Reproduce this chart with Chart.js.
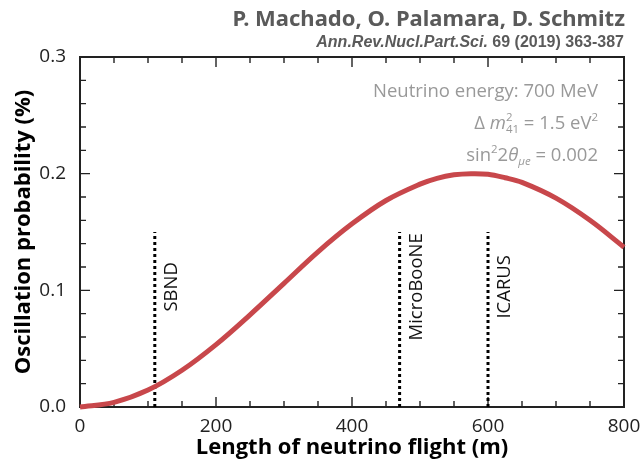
<!DOCTYPE html>
<html>
<head>
<meta charset="utf-8">
<script src="https://cdn.jsdelivr.net/npm/chart.js@4.4.1/dist/chart.umd.min.js"></script>
<style>
  html, body { margin: 0; padding: 0; background: #fff; }
  #wrap { width: 641px; height: 459px; }
</style>
</head>
<body>
<div id="wrap"><canvas id="graficoOsc"></canvas></div>
<script>
// Datos
const longitudes = [0, 50, 100, 150, 200, 250, 300, 350, 400, 450, 500, 525, 550, 575, 600, 625, 650, 700, 750, 800];
const probabilidad = [0, 0.004, 0.0145, 0.0315, 0.0535, 0.079, 0.106, 0.133, 0.157, 0.177, 0.191, 0.196, 0.199, 0.2, 0.1995, 0.1965, 0.1925, 0.179, 0.16, 0.137];
const detectores = ['SBND', 'MicroBooNE', 'ICARUS'];
const posDetector = [110, 470, 600];
const alturaDetector = 0.15;
const xTicks = [0, 200, 400, 600, 800];
const yTicks = [0, 0.1, 0.2, 0.3];

const fuente = '"Open Sans", "DejaVu Sans", sans-serif';

// Datasets: curva + lineas punteadas de cada detector
const datasets = [{
    data: longitudes.map((l, i) => ({ x: l, y: probabilidad[i] })),
    borderColor: '#c8474b',
    borderWidth: 5,
    pointRadius: 0,
    tension: 0.35,
    clip: 6
}];
detectores.forEach((d, i) => {
    datasets.push({
        data: [{ x: posDetector[i], y: 0 }, { x: posDetector[i], y: alturaDetector }],
        borderColor: '#000',
        borderWidth: 3,
        borderDash: [3, 3],
        pointRadius: 0,
        clip: false
    });
});

// Marco con ticks hacia dentro (arriba, abajo, izquierda, derecha)
const marco = {
    id: 'marco',
    beforeDatasetsDraw(chart) {
        const { ctx, chartArea: a, scales: { x, y } } = chart;
        ctx.save();
        ctx.strokeStyle = '#222';
        ctx.lineWidth = 2;
        ctx.strokeRect(a.left, a.top, a.right - a.left, a.bottom - a.top);
        ctx.lineWidth = 1.4;
        ctx.beginPath();
        for (let v = 0; v <= 800; v += 50) {
            const px = x.getPixelForValue(v);
            const len = v % 200 === 0 ? 10 : 6;
            ctx.moveTo(px, a.bottom); ctx.lineTo(px, a.bottom - len);
            ctx.moveTo(px, a.top); ctx.lineTo(px, a.top + len);
        }
        for (let k = 0; k <= 15; k++) {
            const py = y.getPixelForValue(k * 0.02);
            const len = k % 5 === 0 ? 10 : 6;
            ctx.moveTo(a.left, py); ctx.lineTo(a.left + len, py);
            ctx.moveTo(a.right, py); ctx.lineTo(a.right - len, py);
        }
        ctx.stroke();
        ctx.restore();
    }
};

// Dibuja una linea de texto con super/subindices, alineada a la derecha
function textoCompuesto(ctx, partes, derecha, base, tam) {
    const f = (p, s) => (p.it ? 'italic ' : '') + s + 'px ' + fuente;
    let ancho = 0;
    partes.forEach(p => {
        if (p.sup !== undefined || p.sub !== undefined) {
            ctx.font = f(p, tam * 0.62);
            p.w = Math.max(ctx.measureText(p.sup || '').width, ctx.measureText(p.sub || '').width);
        } else {
            ctx.font = f(p, tam);
            p.w = ctx.measureText(p.t).width;
        }
        ancho += p.w;
    });
    let xx = derecha - ancho;
    ctx.textAlign = 'left';
    partes.forEach(p => {
        if (p.sup !== undefined || p.sub !== undefined) {
            ctx.font = f(p, tam * 0.62);
            if (p.sup) ctx.fillText(p.sup, xx, base - tam * 0.42);
            if (p.sub) ctx.fillText(p.sub, xx, base + tam * 0.22);
        } else {
            ctx.font = f(p, tam);
            ctx.fillText(p.t, xx, base);
        }
        xx += p.w;
    });
}

const textos = {
    id: 'textos',
    afterDraw(chart) {
        const { ctx, chartArea: a, scales: { x, y } } = chart;
        ctx.save();
        // Cabecera
        ctx.fillStyle = '#5a5a5a';
        ctx.textAlign = 'right';
        ctx.textBaseline = 'alphabetic';
        ctx.font = 'bold 22px "Noto Sans", sans-serif';
        ctx.fillText('P. Machado, O. Palamara, D. Schmitz', a.right + 1, 26);
        const ref = ' 69 (2019) 363-387';
        ctx.font = 'bold 16px "Liberation Sans", Arial, sans-serif';
        const w2 = ctx.measureText(ref).width;
        ctx.fillText(ref, a.right, 47);
        ctx.font = 'italic bold 16px "Liberation Sans", Arial, sans-serif';
        ctx.fillText('Ann.Rev.Nucl.Part.Sci.', a.right - w2, 47);

        // Parametros
        ctx.fillStyle = '#999';
        const der = a.right - 26;
        textoCompuesto(ctx, [{ t: 'Neutrino energy: 700 MeV' }], der, 97, 18.5);
        textoCompuesto(ctx, [{ t: '\u0394 ' }, { t: 'm', it: true }, { sup: '2', sub: '41' }, { t: ' = 1.5 eV' }, { sup: '2' }], der, 129, 18.5);
        textoCompuesto(ctx, [{ t: 'sin' }, { sup: '2' }, { t: '2' }, { t: '\u03B8', it: true }, { sub: '\u03BCe', it: true }, { t: ' = 0.002' }], der, 161, 18.5);

        // Etiquetas de detectores
        ctx.fillStyle = '#111';
        ctx.font = '18.5px ' + fuente;
        ctx.textAlign = 'center';
        ctx.textBaseline = 'middle';
        detectores.forEach((d, i) => {
            ctx.save();
            ctx.translate(x.getPixelForValue(posDetector[i]) + 17, y.getPixelForValue(0.103));
            ctx.rotate(-Math.PI / 2);
            ctx.fillText(d, 0, 0);
            ctx.restore();
        });
        ctx.restore();
    }
};

const ctx = document.getElementById('graficoOsc').getContext('2d');
new Chart(ctx, {
    type: 'line',
    data: { datasets: datasets },
    options: {
        responsive: true,
        maintainAspectRatio: false,
        animation: false,
        layout: { padding: { top: 57, right: 17, left: 0, bottom: 0 } },
        plugins: { legend: { display: false }, tooltip: { enabled: false } },
        scales: {
            x: {
                type: 'linear',
                min: 0, max: 800,
                afterBuildTicks: s => { s.ticks = xTicks.map(v => ({ value: v })); },
                afterFit: s => { s.height = 52; },
                grid: { display: false },
                border: { display: false },
                ticks: { padding: 0, color: '#222', font: { family: fuente, size: 19 }, maxRotation: 0 },
                title: { display: true, text: 'Length of neutrino flight (m)', color: '#000', font: { family: fuente, size: 22, weight: 'bold' }, padding: { top: 0, bottom: -2 } }
            },
            y: {
                min: 0, max: 0.3,
                afterBuildTicks: s => { s.ticks = yTicks.map(v => ({ value: v })); },
                afterFit: s => { s.width = 80; },
                grid: { display: false },
                border: { display: false },
                ticks: { padding: 6, color: '#222', font: { family: fuente, size: 19 }, callback: v => v.toFixed(1) },
                title: { display: true, text: 'Oscillation probability (%)', color: '#000', font: { family: fuente, size: 22, weight: 'bold' }, padding: { top: 11, bottom: 0 } }
            }
        }
    },
    plugins: [marco, textos]
});
</script>
</body>
</html>
